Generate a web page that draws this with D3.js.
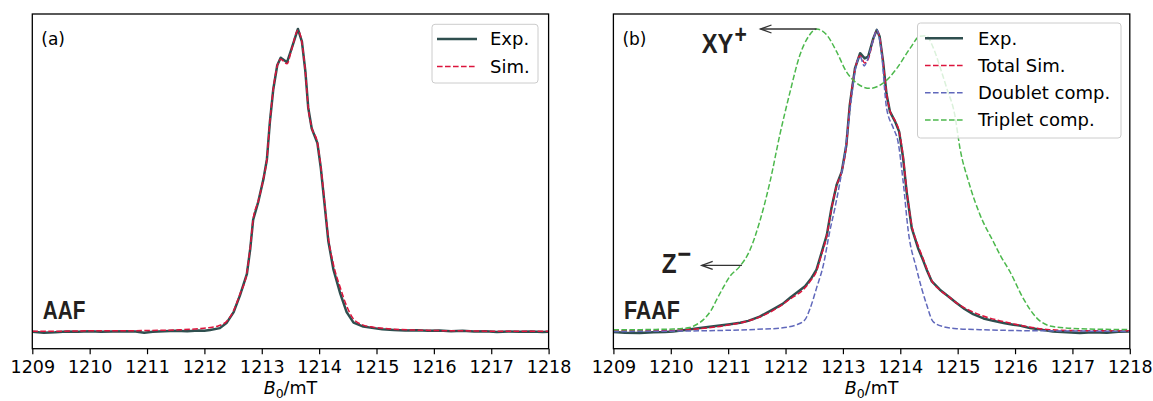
<!DOCTYPE html>
<html><head><meta charset="utf-8">
<script src="https://cdn.jsdelivr.net/npm/d3@7"></script>
<style>html,body{margin:0;padding:0;background:#fff;}svg{display:block;}</style>
</head><body><svg id="c" width="1153" height="401"></svg>
<script>
// ---------- data ----------
const xTicks = [1209,1210,1211,1212,1213,1214,1215,1216,1217,1218];
const xLabel = "B0/mT";
const legendA = ["Exp.", "Sim."];
const legendB = ["Exp.", "Total Sim.", "Doublet comp.", "Triplet comp."];

// Panel (a) AAF
const aExpField = [1209.0,1209.2,1209.4,1209.6,1209.8,1210.0,1210.2,1210.4,1210.6,1210.8,1210.95,1211.1,1211.3,1211.5,1211.7,1211.9,1212.0,1212.1,1212.27,1212.39,1212.51,1212.62,1212.74,1212.80,1212.85,1212.94,1213.03,1213.09,1213.14,1213.20,1213.27,1213.33,1213.44,1213.52,1213.63,1213.70,1213.76,1213.81,1213.87,1213.97,1214.03,1214.09,1214.16,1214.25,1214.37,1214.48,1214.60,1214.77,1214.95,1215.1,1215.3,1215.5,1215.7,1215.9,1216.1,1216.3,1216.5,1216.7,1216.9,1217.1,1217.3,1217.5,1217.7,1217.9,1218.0];
const aExp = [0.000,-0.003,-0.002,0.001,0.000,0.002,0.000,0.001,0.002,0.001,-0.003,0.000,0.002,0.003,0.002,0.004,0.003,0.006,0.012,0.030,0.065,0.120,0.190,0.275,0.370,0.430,0.505,0.570,0.690,0.800,0.880,0.905,0.890,0.935,1.000,0.958,0.860,0.740,0.672,0.623,0.540,0.430,0.300,0.205,0.125,0.065,0.030,0.017,0.012,0.008,0.006,0.004,0.005,0.003,0.004,0.002,0.003,0.001,0.002,-0.001,0.001,0.000,0.001,-0.001,0.000];
const aSimField = [1209.0,1209.5,1210.0,1210.5,1211.0,1211.5,1211.9,1212.1,1212.25,1212.39,1212.51,1212.62,1212.74,1212.80,1212.85,1212.94,1213.03,1213.09,1213.14,1213.20,1213.27,1213.33,1213.44,1213.52,1213.63,1213.70,1213.76,1213.81,1213.87,1213.97,1214.03,1214.09,1214.16,1214.25,1214.37,1214.48,1214.60,1214.77,1214.95,1215.2,1215.6,1216.0,1216.5,1217.0,1217.5,1218.0];
const aSim = [0.002,0.002,0.003,0.003,0.004,0.006,0.010,0.014,0.020,0.035,0.070,0.125,0.195,0.280,0.372,0.432,0.507,0.572,0.690,0.800,0.878,0.900,0.885,0.932,0.995,0.955,0.858,0.742,0.675,0.625,0.545,0.438,0.312,0.222,0.145,0.085,0.042,0.022,0.015,0.010,0.006,0.004,0.003,0.002,0.002,0.002];

// Panel (b) FAAF
const bExpField = [1209.0,1209.2,1209.46,1209.7,1209.9,1210.04,1210.25,1210.51,1210.75,1211.03,1211.21,1211.35,1211.55,1211.79,1211.95,1212.08,1212.2,1212.34,1212.45,1212.54,1212.60,1212.72,1212.80,1212.89,1212.98,1213.06,1213.12,1213.21,1213.30,1213.38,1213.44,1213.53,1213.59,1213.64,1213.70,1213.76,1213.82,1213.91,1213.98,1214.05,1214.11,1214.20,1214.31,1214.40,1214.46,1214.55,1214.69,1214.85,1214.98,1215.12,1215.27,1215.45,1215.62,1215.8,1215.97,1216.1,1216.26,1216.45,1216.66,1216.9,1217.13,1217.35,1217.6,1217.8,1218.0];
const bExp = [-0.001,-0.003,-0.004,-0.002,-0.001,0.001,0.006,0.012,0.018,0.025,0.030,0.036,0.050,0.075,0.092,0.112,0.130,0.150,0.177,0.205,0.243,0.320,0.408,0.485,0.529,0.617,0.749,0.870,0.920,0.903,0.909,0.969,0.997,0.975,0.892,0.785,0.727,0.694,0.661,0.573,0.463,0.342,0.276,0.235,0.205,0.166,0.139,0.115,0.095,0.075,0.058,0.044,0.036,0.029,0.023,0.020,0.012,0.007,0.001,-0.002,-0.004,-0.002,-0.003,0.000,0.001];
const bSimField = [1209.0,1209.5,1210.0,1210.5,1211.0,1211.5,1211.8,1212.08,1212.34,1212.45,1212.54,1212.60,1212.72,1212.80,1212.89,1212.98,1213.06,1213.12,1213.21,1213.30,1213.38,1213.44,1213.53,1213.59,1213.64,1213.70,1213.76,1213.82,1213.91,1213.98,1214.05,1214.11,1214.20,1214.31,1214.40,1214.46,1214.55,1214.69,1214.85,1214.98,1215.15,1215.4,1215.7,1216.0,1216.3,1216.6,1217.0,1217.5,1218.0];
const bSim = [0.003,0.003,0.004,0.010,0.022,0.045,0.072,0.108,0.145,0.172,0.200,0.238,0.318,0.405,0.483,0.530,0.615,0.745,0.865,0.912,0.888,0.900,0.965,0.995,0.973,0.890,0.788,0.730,0.697,0.662,0.578,0.470,0.352,0.285,0.240,0.210,0.168,0.138,0.115,0.095,0.076,0.055,0.038,0.025,0.014,0.007,0.004,0.003,0.003];
const bDoubletField = [1209.0,1210.0,1210.8,1211.5,1211.9,1212.19,1212.34,1212.43,1212.54,1212.66,1212.77,1212.86,1212.95,1213.03,1213.12,1213.21,1213.30,1213.37,1213.41,1213.53,1213.59,1213.67,1213.76,1213.88,1213.96,1214.05,1214.14,1214.28,1214.46,1214.57,1214.75,1215.0,1215.39,1216.0,1216.55,1217.3,1218.0];
const bDoublet = [0.001,0.002,0.004,0.008,0.012,0.023,0.040,0.078,0.144,0.221,0.331,0.408,0.496,0.584,0.727,0.859,0.909,0.878,0.890,0.964,0.997,0.925,0.740,0.672,0.628,0.496,0.331,0.210,0.089,0.034,0.017,0.010,0.007,0.004,0.003,0.002,0.001];
const bTripletField = [1209.0,1209.5,1209.8,1210.04,1210.2,1210.33,1210.45,1210.57,1210.7,1210.80,1210.92,1211.03,1211.2,1211.38,1211.55,1211.73,1211.90,1212.08,1212.25,1212.40,1212.54,1212.72,1212.89,1213.06,1213.24,1213.47,1213.70,1213.94,1214.17,1214.34,1214.45,1214.57,1214.70,1214.81,1214.95,1215.04,1215.19,1215.39,1215.62,1215.75,1215.91,1216.14,1216.38,1216.66,1217.13,1218.0];
const bTriplet = [0.007,0.007,0.008,0.009,0.011,0.014,0.024,0.040,0.070,0.106,0.148,0.183,0.215,0.270,0.364,0.496,0.650,0.793,0.914,0.975,1.000,0.980,0.925,0.859,0.821,0.804,0.821,0.870,0.936,0.976,0.978,0.940,0.870,0.804,0.716,0.606,0.496,0.386,0.298,0.250,0.199,0.111,0.045,0.017,0.010,0.007];

// ---------- drawing ----------
const svg = d3.select("#c");
const C = {exp:"#2f4f4f", sim:"#dc143c", dbl:"#6068bb", tri:"#4cb84c"};
const yDomain = [-0.056, 1.0495];
const plotTop = 14, plotBottom = 348.7;
const y = d3.scaleLinear().domain(yDomain).range([plotBottom, plotTop]);
const tickFont = "DejaVu Sans, sans-serif";

function zip(xs, ys){ return xs.map((v,i)=>[v, ys[i]]); }

function panel(id, x0, x1, series, legendItems, legendBox, tag, name, nameW){
  const x = d3.scaleLinear().domain([1209,1218]).range([x0, x1]);
  const g = svg.append("g");
  g.append("clipPath").attr("id","clip"+id).append("rect")
    .attr("x",x0).attr("y",plotTop).attr("width",x1-x0).attr("height",plotBottom-plotTop);
  const lines = g.append("g").attr("clip-path","url(#clip"+id+")");
  series.forEach(s=>{
    const ln = d3.line().x(d=>x(d[0])).y(d=>y(d[1])).curve(s.curve||d3.curveLinear);
    lines.append("path").attr("d", ln(zip(s.xs, s.ys)))
      .attr("fill","none").attr("stroke",s.color).attr("stroke-width",s.w)
      .attr("stroke-dasharray", s.dash||null).attr("stroke-linejoin","round");
  });
  const ax = g.append("g").attr("transform",`translate(0,${plotBottom})`)
    .call(d3.axisBottom(x).tickValues(xTicks).tickFormat(d3.format("d")).tickSize(5.5).tickPadding(6.5));
  ax.select(".domain").remove();
  ax.selectAll("line").attr("stroke","#000").attr("stroke-width",1.2);
  ax.selectAll("text").attr("font-family",tickFont).attr("font-size",17.5).attr("fill","#000");
  g.append("rect").attr("x",x0).attr("y",plotTop).attr("width",x1-x0).attr("height",plotBottom-plotTop)
    .attr("fill","none").attr("stroke","#000").attr("stroke-width",1.3);
  const t = g.append("text").attr("x",(x0+x1)/2).attr("y",394).attr("text-anchor","middle")
    .attr("font-family",tickFont).attr("font-size",17.5).attr("fill","#000");
  t.append("tspan").attr("font-style","italic").text("B");
  t.append("tspan").attr("font-size",12.5).attr("dy",4).text("0");
  t.append("tspan").attr("dy",-4).text("/mT");
  g.append("text").attr("x",x0+9).attr("y",44.5).attr("font-family",tickFont).attr("font-size",17).text(tag);
  g.append("text").attr("x",x0+10.5).attr("y",319.3).attr("font-family","Liberation Sans, Arial, sans-serif")
    .attr("font-weight","bold").attr("font-size",25).attr("fill","#231f20")
    .attr("textLength",nameW).attr("lengthAdjust","spacingAndGlyphs").text(name);
  const lg = g.append("g");
  lg.append("rect").attr("x",legendBox.x).attr("y",legendBox.y).attr("width",legendBox.w).attr("height",legendBox.h)
    .attr("rx",3).attr("fill","#fff").attr("fill-opacity",0.8).attr("stroke","#cccccc").attr("stroke-width",1);
  legendItems.forEach((it,i)=>{
    const yy = legendBox.r0 + i*legendBox.dy;
    lg.append("line").attr("x1",legendBox.lx).attr("x2",legendBox.lx+legendBox.lw).attr("y1",yy).attr("y2",yy)
      .attr("stroke",it.color).attr("stroke-width",it.w).attr("stroke-dasharray",it.dash||null);
    lg.append("text").attr("x",legendBox.tx).attr("y",yy).attr("dy","0.36em")
      .attr("font-family",tickFont).attr("font-size",18).attr("fill","#000").text(it.label);
  });
  return x;
}

const dash = "5.6,2.4";
const sA = [
  {xs:aExpField, ys:aExp, color:C.exp, w:2.5},
  {xs:aSimField, ys:aSim, color:C.sim, w:1.5, dash:dash, curve:d3.curveMonotoneX}
];
panel("a", 32.3, 548.6, sA,
  [{label:legendA[0],color:C.exp,w:2.5},{label:legendA[1],color:C.sim,w:1.5,dash:dash}],
  {x:432,y:24.3,w:106,h:58.7,lx:437,lw:40,tx:490,r0:39,dy:27.5}, "(a)", "AAF", 42.5);

const sB = [
  {xs:bExpField, ys:bExp, color:C.exp, w:2.5},
  {xs:bSimField, ys:bSim, color:C.sim, w:1.5, dash:dash, curve:d3.curveMonotoneX},
  {xs:bDoubletField, ys:bDoublet, color:C.dbl, w:1.5, dash:dash, curve:d3.curveMonotoneX},
  {xs:bTripletField, ys:bTriplet, color:C.tri, w:1.5, dash:dash, curve:d3.curveMonotoneX}
];
const xB = panel("b", 613.4, 1129.8, sB,
  [{label:legendB[0],color:C.exp,w:2.5},{label:legendB[1],color:C.sim,w:1.5,dash:dash},
   {label:legendB[2],color:C.dbl,w:1.5,dash:dash},{label:legendB[3],color:C.tri,w:1.5,dash:dash}],
  {x:917.5,y:23,w:203.5,h:115,lx:925,lw:38,tx:978,r0:38.3,dy:27.2}, "(b)", "FAAF", 56);

const ann = svg.append("g");
function arrow(xFrom, yv, xTo){
  const yy = y(yv);
  ann.append("line").attr("x1",xFrom).attr("x2",xTo).attr("y1",yy).attr("y2",yy)
    .attr("stroke","#333").attr("stroke-width",1.3);
  ann.append("path").attr("d",`M${xTo+11},${yy-4}L${xTo},${yy}L${xTo+11},${yy+4}`)
    .attr("fill","none").attr("stroke","#333").attr("stroke-width",1.3);
}
arrow(xB(1212.54), 1.0, 760.5);
arrow(xB(1211.24), 0.219, 701.7);
const annFont = "Liberation Sans, Arial, sans-serif";
// XY+ as one text, horizontally condensed
const txy = ann.append("text").attr("transform","translate(701.7,53.3) scale(0.845,1)")
  .attr("font-family",annFont).attr("font-weight","bold").attr("font-size",28).attr("fill","#231f20");
txy.append("tspan").text("XY");
txy.append("tspan").attr("font-size",25).attr("dx",1.5).attr("dy",-10.7).text("+");
// Z− as one text
const tz = ann.append("text").attr("transform","translate(661.7,273) scale(0.87,1)")
  .attr("font-family",annFont).attr("font-weight","bold").attr("font-size",28).attr("fill","#231f20");
tz.append("tspan").text("Z");
tz.append("tspan").attr("font-size",27).attr("dx",1).attr("dy",-10).text("\u2212");
</script></body></html>
